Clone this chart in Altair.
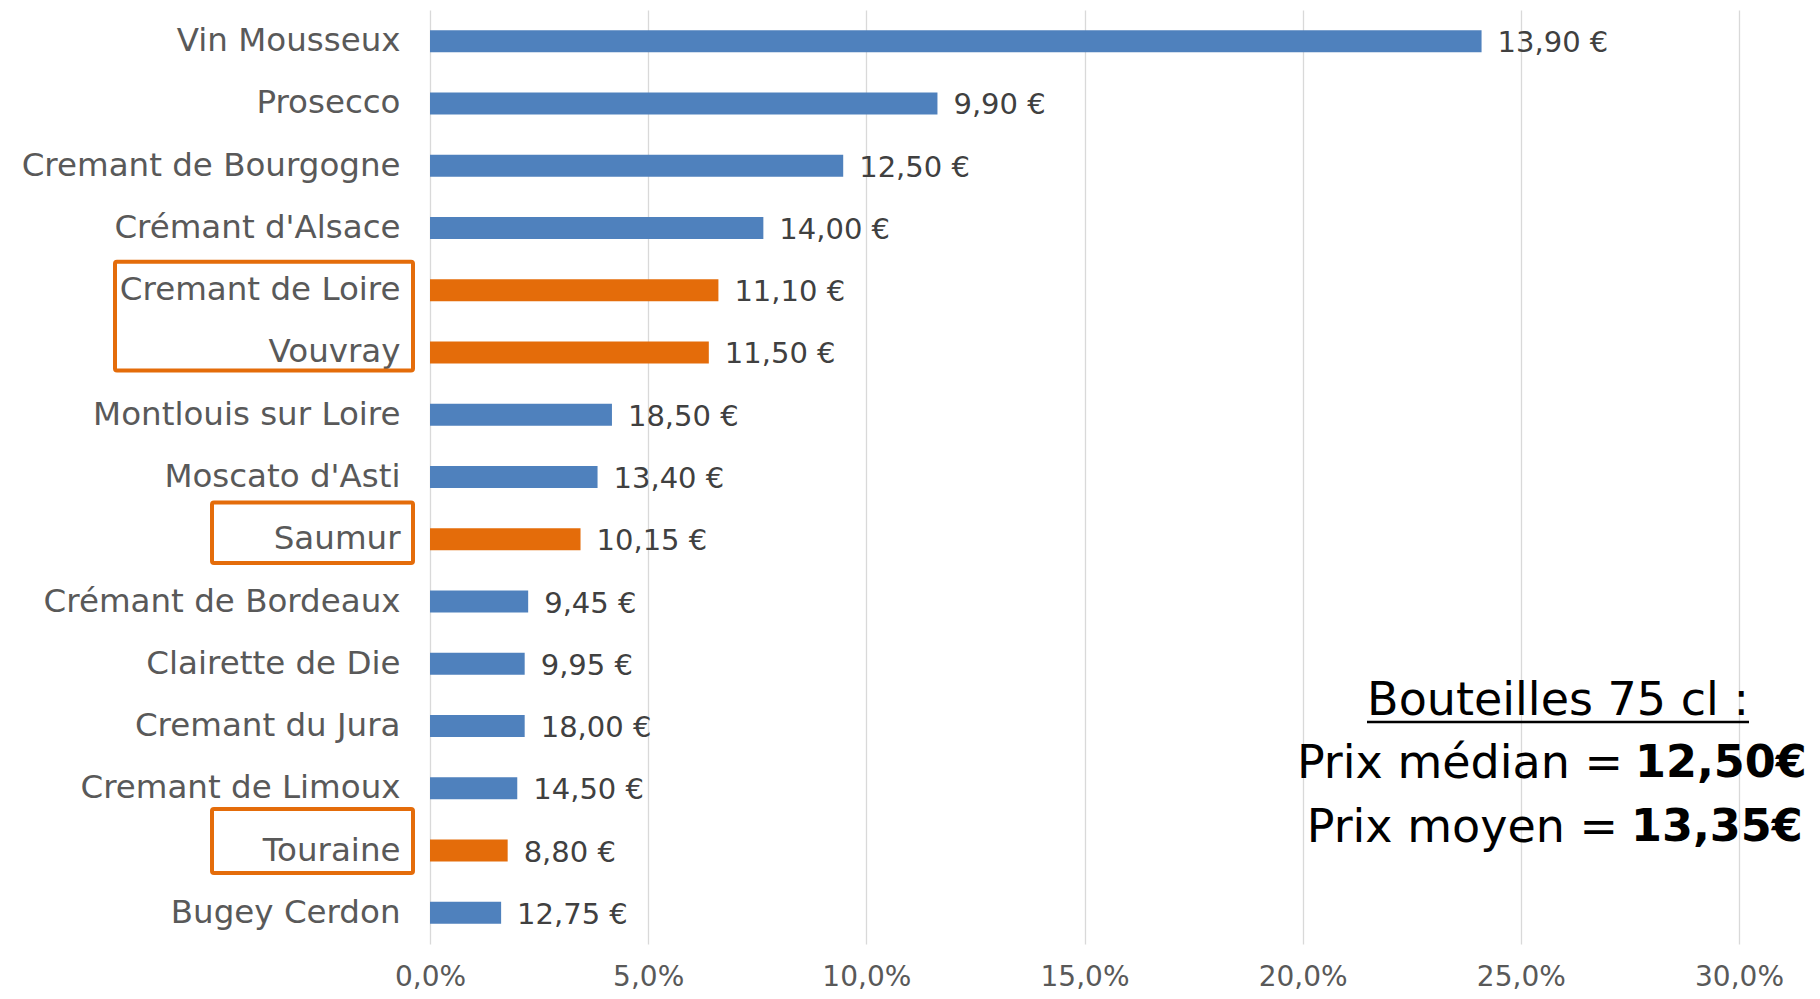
import altair as alt
import pandas as pd

# ---- data ----
categories = ["Vin Mousseux", "Prosecco", "Cremant de Bourgogne", "Crémant d'Alsace",
              "Cremant de Loire", "Vouvray", "Montlouis sur Loire", "Moscato d'Asti",
              "Saumur", "Crémant de Bordeaux", "Clairette de Die", "Cremant du Jura",
              "Cremant de Limoux", "Touraine", "Bugey Cerdon"]
shares = [0.241, 0.1163, 0.0947, 0.0764, 0.0661, 0.0639, 0.0417, 0.0384,
          0.0345, 0.0225, 0.0217, 0.0217, 0.0200, 0.0178, 0.0163]
prices = ["13,90 €", "9,90 €", "12,50 €", "14,00 €", "11,10 €", "11,50 €", "18,50 €",
          "13,40 €", "10,15 €", "9,45 €", "9,95 €", "18,00 €", "14,50 €", "8,80 €", "12,75 €"]
highlighted = ["Cremant de Loire", "Vouvray", "Saumur", "Touraine"]
x_ticks = [0, 0.05, 0.10, 0.15, 0.20, 0.25, 0.30]

# groups of highlighted labels framed by an orange box (first row, last row)
box_groups = [("Cremant de Loire", "Vouvray"), ("Saumur", "Saumur"), ("Touraine", "Touraine")]

annot_title = "Bouteilles 75 cl :"
annot_lines = [("Prix médian =", "12,50€"), ("Prix moyen =", "13,35€")]

# ---- layout ----
W, H = 1309, 934
N = len(categories)
STEP = H / N
FONT = "DejaVu Sans"
BLUE = "#4F81BD"
ORANGE = "#E46C0A"

df = pd.DataFrame({
    "cat": categories,
    "share": shares,
    "price": prices,
    "grp": ["hl" if c in highlighted else "std" for c in categories],
})

y_enc = alt.Y("cat:N", sort=categories,
              scale=alt.Scale(paddingInner=0, paddingOuter=0),
              axis=alt.Axis(title=None, ticks=False, domain=False, grid=False,
                            labelFontSize=32.5, labelColor="#595959", labelFont=FONT,
                            labelPadding=30, labelLimit=600))
x_enc = alt.X("share:Q", scale=alt.Scale(domain=[0, 0.3], nice=False),
              axis=alt.Axis(title=None, values=x_ticks, ticks=False, tickSize=0, domain=False,
                            grid=True, gridColor="#D9D9D9", gridWidth=1.3,
                            labelFontSize=28, labelColor="#595959", labelFont=FONT,
                            labelPadding=19, labelFlush=False, labelOverlap=False,
                            labelExpr="replace(format(datum.value, '.1%'), '.', ',')"))

bars = alt.Chart(df).mark_bar(size=22).encode(
    y=y_enc, x=x_enc,
    color=alt.Color("grp:N", scale=alt.Scale(domain=["std", "hl"], range=[BLUE, ORANGE]),
                    legend=None),
)

labels = alt.Chart(df).mark_text(align="left", baseline="middle", dx=16, dy=2,
                                 fontSize=29, font=FONT, color="#404040").encode(
    y=alt.Y("cat:N", sort=categories), x="share:Q", text="price:N")

# boxes around highlighted axis labels (rows -> pixels through the band step)
idx = {c: i for i, c in enumerate(categories)}
box_df = pd.DataFrame({
    "y0": [(idx[a] + (0.045 if a == "Cremant de Loire" else -0.09 if a == "Saumur" else -0.17)) * STEP
           for a, b in box_groups],
    "y1": [(idx[b] + (0.79 if b == "Vouvray" else 0.88 if b == "Saumur" else 0.86)) * STEP
           for a, b in box_groups],
    "x0": [-315, -218, -218],
    "x1": [-17, -17, -17],
})
boxes = alt.Chart(box_df).mark_rect(fillOpacity=0, stroke=ORANGE, strokeWidth=4,
                                    cornerRadius=2).encode(
    x=alt.X("x0:Q", scale=None, axis=None), x2="x1",
    y=alt.Y("y0:Q", scale=None, axis=None), y2="y1")

# annotation block
TX = 1128  # centre of the block (plot coordinates)
ann_title = alt.Chart(pd.DataFrame({"t": [annot_title]})).mark_text(
    align="center", baseline="middle", fontSize=46, font=FONT, color="black").encode(
    x=alt.value(TX), y=alt.value(691), text="t:N")
underline = alt.Chart(pd.DataFrame({"t": [annot_title]})).mark_rule(
    color="black", strokeWidth=2.5).encode(
    x=alt.value(TX - 191), x2=alt.value(TX + 191), y=alt.value(712))

ann_norm = alt.Chart(pd.DataFrame({
    "t": [a for a, b in annot_lines], "yy": [754, 818], "xx": [1193, 1188]})).mark_text(
    align="right", baseline="middle", fontSize=46, font=FONT, color="black").encode(
    x=alt.X("xx:Q", scale=None, axis=None), y=alt.Y("yy:Q", scale=None, axis=None), text="t:N")
ann_bold = alt.Chart(pd.DataFrame({
    "t": [b for a, b in annot_lines], "yy": [754, 818], "xx": [1205, 1201]})).mark_text(
    align="left", baseline="middle", fontSize=44.5, font=FONT, fontWeight="bold",
    color="black").encode(
    x=alt.X("xx:Q", scale=None, axis=None), y=alt.Y("yy:Q", scale=None, axis=None), text="t:N")

chart = alt.layer(bars, labels, boxes, ann_title, underline, ann_norm, ann_bold).properties(
    width=W, height=H,
    autosize=alt.AutoSizeParams(type="none"),
    padding={"left": 422, "top": 2, "right": 73, "bottom": 47},
).configure(background="white").configure_view(stroke=None)

chart.save("out.html", embed_options={"renderer": "svg", "actions": False})
